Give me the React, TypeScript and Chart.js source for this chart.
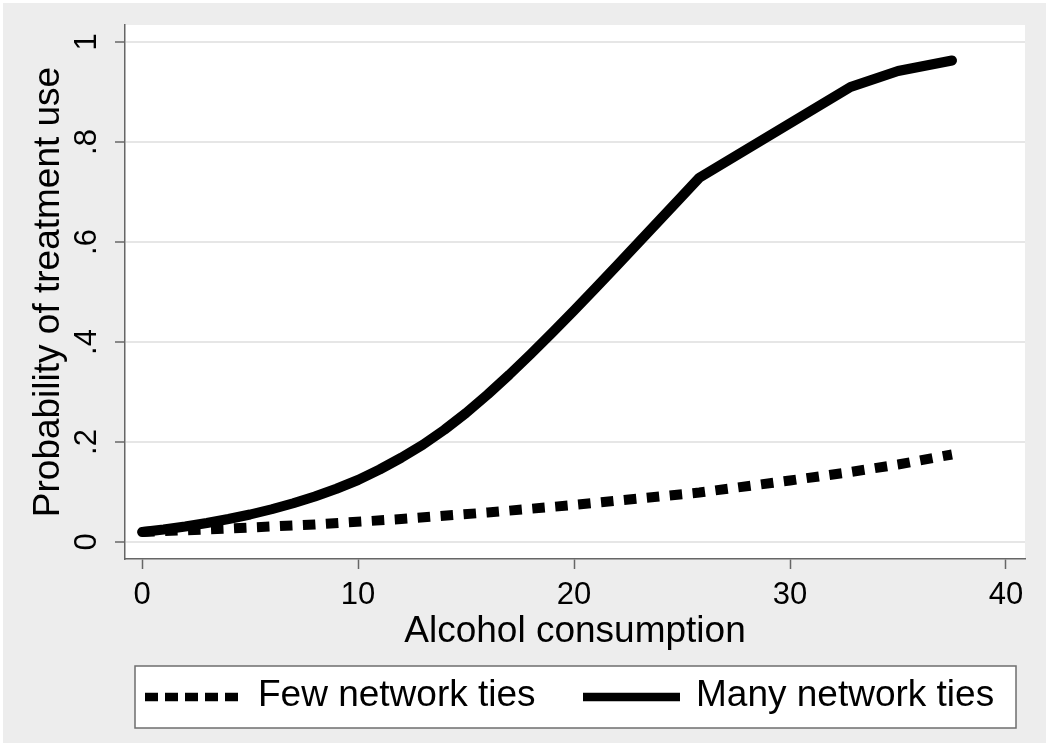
import React, { useEffect, useRef } from "react";
import { Chart, registerables } from "chart.js";

Chart.register(...registerables);

// ---- data ----
const alcoholFew = [0, 4, 8, 12, 16, 20, 25.8, 30, 32.8, 35, 37.5];
const probFew = [0.02, 0.027, 0.035, 0.046, 0.059, 0.074, 0.099, 0.123, 0.14, 0.155, 0.175];
const alcoholMany = [0, 1, 2, 3, 4, 5, 6, 7, 8, 9, 10, 11, 12, 13, 14, 15, 16, 17, 18, 19, 20, 21, 22, 23, 24, 25, 25.8, 32.8, 35, 37.5];
const probMany = [
  0.02, 0.025, 0.031, 0.038, 0.046, 0.055, 0.0655, 0.0775, 0.091, 0.1065,
  0.124, 0.145, 0.1685, 0.1945, 0.2245, 0.258, 0.295, 0.3345, 0.376, 0.419,
  0.463, 0.508, 0.5535, 0.5995, 0.6455, 0.6915, 0.7285, 0.91, 0.942, 0.963,
];
const seriesLabels = ["Few network ties", "Many network ties"];
const xTicks = [0, 10, 20, 30, 40];
const yTicks = [0, 0.2, 0.4, 0.6, 0.8, 1];
const yTickLabels = ["0", ".2", ".4", ".6", ".8", "1"];
const xTitle = "Alcohol consumption";
const yTitle = "Probability of treatment use";

const FONT = "'Liberation Sans', Arial, Helvetica, sans-serif";
const AXIS_COLOR = "#666666";

const backgroundPlugin = {
  id: "stataBackground",
  beforeDraw(chart: any) {
    const { ctx, width, height, chartArea } = chart;
    ctx.save();
    ctx.fillStyle = "#ffffff";
    ctx.fillRect(0, 0, width, height);
    ctx.fillStyle = "#ededed";
    ctx.fillRect(3, 3, width - 7, height - 7);
    ctx.fillStyle = "#ffffff";
    ctx.fillRect(chartArea.left, chartArea.top, chartArea.right - chartArea.left, chartArea.bottom - chartArea.top);
    ctx.restore();
  },
};

const legendPlugin = {
  id: "stataLegend",
  afterDraw(chart: any) {
    const { ctx } = chart;
    const box = { x: 135, y: 666, w: 881, h: 62 };
    ctx.save();
    ctx.fillStyle = "#ffffff";
    ctx.fillRect(box.x, box.y, box.w, box.h);
    ctx.strokeStyle = "#6e6e6e";
    ctx.lineWidth = 1.5;
    ctx.strokeRect(box.x, box.y, box.w, box.h);
    const slots = [
      { sx: 145, ex: 241, tx: 258 },
      { sx: 583, ex: 680, tx: 696 },
    ];
    const midY = box.y + 31;
    chart.data.datasets.forEach((ds: any, i: number) => {
      const s = slots[i];
      ctx.beginPath();
      ctx.setLineDash(ds.borderDash && ds.borderDash.length ? [13, 7] : []);
      ctx.lineCap = "butt";
      ctx.lineWidth = 8.5;
      ctx.strokeStyle = ds.borderColor;
      ctx.moveTo(s.sx, midY);
      ctx.lineTo(s.ex, midY);
      ctx.stroke();
      ctx.setLineDash([]);
      ctx.fillStyle = "#000000";
      ctx.font = `37px ${FONT}`;
      ctx.textBaseline = "alphabetic";
      ctx.textAlign = "left";
      ctx.fillText(ds.label, s.tx, box.y + 40);
    });
    ctx.restore();
  },
};

export default function App() {
  const canvasRef = useRef<HTMLCanvasElement | null>(null);

  useEffect(() => {
    document.body.style.margin = "0";
    const canvas = canvasRef.current;
    if (!canvas) return;

    const chart = new Chart(canvas, {
      type: "line",
      data: {
        datasets: [
          {
            label: seriesLabels[0],
            data: alcoholFew.map((x, i) => ({ x, y: probFew[i] })),
            borderColor: "#000000",
            borderWidth: 10,
            borderDash: [12.5, 10.5],
            borderCapStyle: "butt",
            borderJoinStyle: "miter",
            pointRadius: 0,
            tension: 0,
            fill: false,
          },
          {
            label: seriesLabels[1],
            data: alcoholMany.map((x, i) => ({ x, y: probMany[i] })),
            borderColor: "#000000",
            borderWidth: 10,
            borderCapStyle: "round",
            borderJoinStyle: "round",
            pointRadius: 0,
            tension: 0,
            fill: false,
          },
        ],
      },
      options: {
        animation: false,
        responsive: false,
        devicePixelRatio: 1,
        layout: { padding: { top: 25, right: 25, left: 0, bottom: 0 } },
        plugins: {
          legend: { display: false },
          tooltip: { enabled: false },
        },
        scales: {
          x: {
            type: "linear",
            min: -0.79,
            max: 40.88,
            afterBuildTicks: (scale: any) => {
              scale.ticks = xTicks.map((v) => ({ value: v }));
            },
            afterFit: (scale: any) => {
              scale.height = 188;
              scale.paddingLeft = 0;
              scale.paddingRight = 0;
            },
            grid: {
              drawOnChartArea: false,
              drawTicks: true,
              tickLength: 10,
              tickColor: AXIS_COLOR,
              tickWidth: 1.5,
            },
            border: { display: true, color: AXIS_COLOR, width: 1.5 },
            ticks: {
              color: "#000000",
              font: { family: FONT, size: 31 },
              padding: 8,
              maxRotation: 0,
              minRotation: 0,
              callback: (v: any) => String(v),
            },
            title: {
              display: true,
              text: xTitle,
              color: "#000000",
              font: { family: FONT, size: 37 },
              padding: { top: 0, bottom: 93 },
            },
          },
          y: {
            type: "linear",
            min: -0.034,
            max: 1.034,
            afterBuildTicks: (scale: any) => {
              scale.ticks = yTicks.map((v) => ({ value: v }));
            },
            afterFit: (scale: any) => {
              scale.width = 125;
              scale.paddingTop = 0;
              scale.paddingBottom = 0;
            },
            grid: {
              color: "#e6e6e6",
              lineWidth: 2,
              drawTicks: true,
              tickLength: 10,
              tickColor: AXIS_COLOR,
              tickWidth: 1.5,
            },
            border: { display: true, color: AXIS_COLOR, width: 1.5 },
            ticks: {
              color: "#000000",
              font: { family: FONT, size: 31 },
              padding: 14.5,
              minRotation: 90,
              maxRotation: 90,
              crossAlign: "center",
              callback: (v: any) => {
                const idx = yTicks.findIndex((t) => Math.abs(t - v) < 1e-9);
                return idx >= 0 ? yTickLabels[idx] : "";
              },
            },
            title: {
              display: true,
              text: yTitle,
              color: "#000000",
              font: { family: FONT, size: 37 },
              padding: { top: 27, bottom: 0 },
            },
          },
        },
      },
      plugins: [backgroundPlugin, legendPlugin],
    } as any);

    return () => {
      chart.destroy();
    };
  }, []);

  return (
    <canvas
      ref={canvasRef}
      width={1050}
      height={747}
      style={{ display: "block", width: "1050px", height: "747px" }}
    />
  );
}
